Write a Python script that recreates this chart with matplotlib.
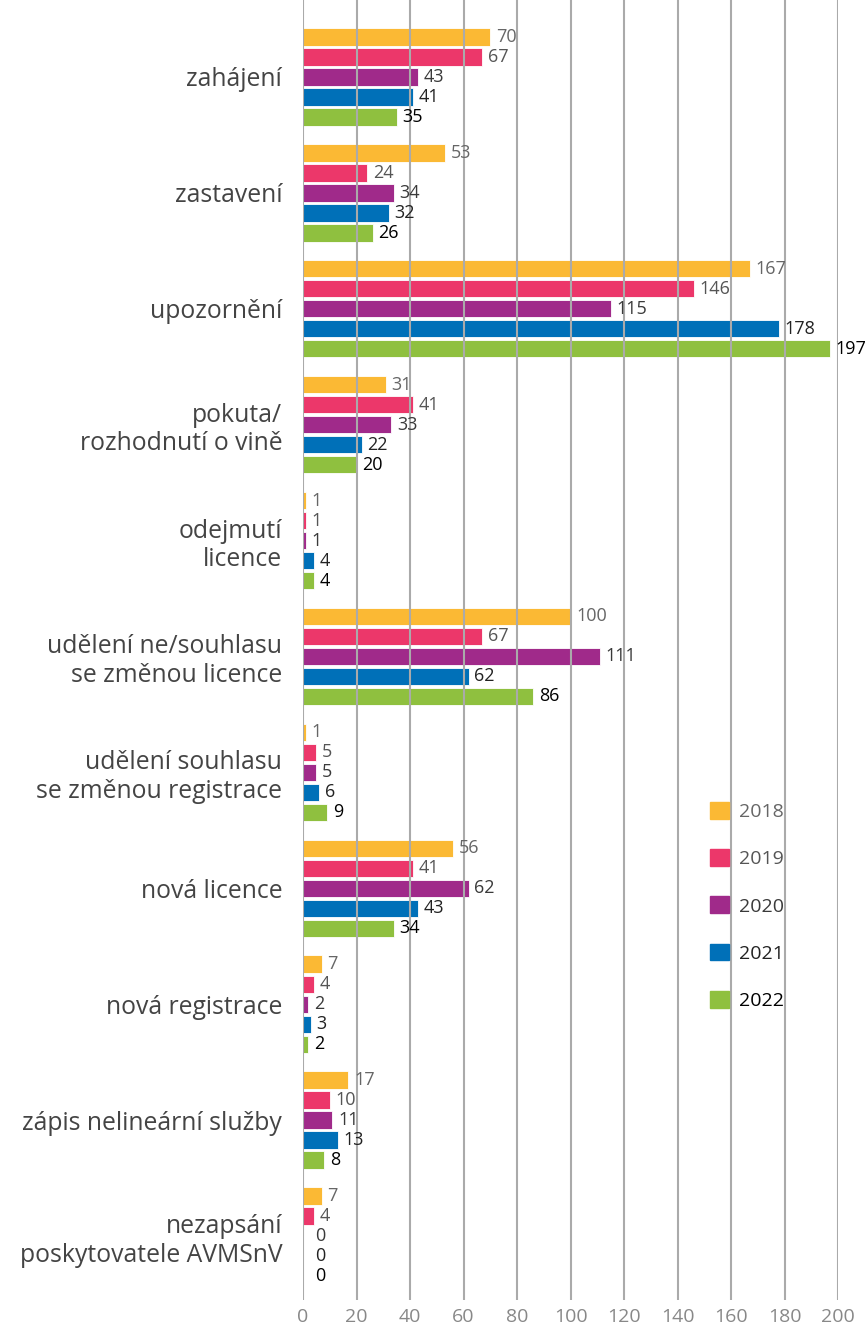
import matplotlib.pyplot as plt
from matplotlib.patches import Patch
import numpy as np

plt.rcParams['font.family'] = ['Open Sans', 'DejaVu Sans']

categories = ["zahájení", "zastavení", "upozornění", "pokuta/\nrozhodnutí o vině",
              "odejmutí\nlicence", "udělení ne/souhlasu\nse změnou licence",
              "udělení souhlasu\nse změnou registrace", "nová licence",
              "nová registrace", "zápis nelineární služby",
              "nezapsání\nposkytovatele AVMSnV"]
years = ["2018", "2019", "2020", "2021", "2022"]
v2018 = [70, 53, 167, 31, 1, 100, 1, 56, 7, 17, 7]
v2019 = [67, 24, 146, 41, 1, 67, 5, 41, 4, 10, 4]
v2020 = [43, 34, 115, 33, 1, 111, 5, 62, 2, 11, 0]
v2021 = [41, 32, 178, 22, 4, 62, 6, 43, 3, 13, 0]
v2022 = [35, 26, 197, 20, 4, 86, 9, 34, 2, 8, 0]
series = [v2018, v2019, v2020, v2021, v2022]

colors = ["#FBB934", "#EC376A", "#A02A8A", "#0070B8", "#8FC03F"]
label_colors = ["#666666", "#555555", "#3a3a3a", "#222222", "#000000"]

fig = plt.figure(figsize=(8.67, 13.31), dpi=100)
ax = fig.add_axes([0.3495, 0.0233, 0.6171, 0.9767])

step = 0.1726
height = 0.15
y = np.arange(len(categories))
for j, vals in enumerate(series):
    pos = y + (j - 2) * step
    ax.barh(pos, vals, height=height, color=colors[j], edgecolor="white",
            linewidth=0.6, zorder=2)
    for p, v in zip(pos, vals):
        ax.annotate(str(v), (v, p), xytext=(4 if v > 0 else 9, 0),
                    textcoords="offset points", va="center", ha="left",
                    fontsize=13, color=label_colors[j], zorder=4,
                    annotation_clip=False)

ax.set_xlim(0, 200)
ax.set_ylim(len(categories) - 1 + 0.552, -0.664)
ax.set_xticks(range(0, 201, 20))
ax.xaxis.grid(True, color="#aaaaaa", linewidth=1.5, zorder=3)
ax.set_axisbelow(False)
ax.set_yticks(y)
ax.set_yticklabels(categories, fontsize=17.8, color="#444444", ha="right")
ax.tick_params(axis="y", length=0, pad=15)
ax.tick_params(axis="x", length=0, labelsize=14, labelcolor="#888888", pad=6)
for s in ax.spines.values():
    s.set_visible(False)

handles = [Patch(color=c) for c in colors]
leg = fig.legend(handles, years, loc="upper left", bbox_to_anchor=(0.819, 0.3975),
                 frameon=False, fontsize=14, labelspacing=1.45, borderpad=0,
                 borderaxespad=0, handlelength=0.95, handleheight=0.95,
                 handletextpad=0.55)
for t, c in zip(leg.get_texts(), label_colors):
    t.set_color(c)

fig.savefig("out.png", dpi=100)
